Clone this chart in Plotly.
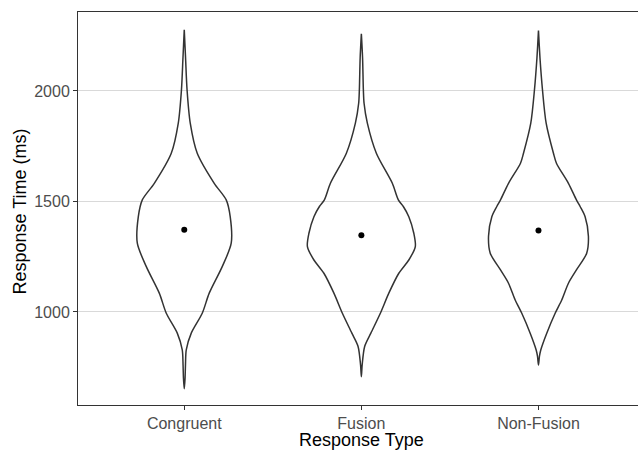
import plotly.graph_objects as go

categories = ["Congruent", "Fusion", "Non-Fusion"]
means = [1372, 1347, 1368]

# violin outlines: response time (ms) and half-width of the density (category units)
congruent_rt = [652, 700, 760, 828, 904, 994, 1085, 1205, 1311, 1431, 1507, 1582, 1718, 1854, 2005, 2150, 2276]
congruent_w = [0, .0045, .0068, .0113, .0395, .1015, .141, .2143, .2651, .2594, .2369, .1692, .0733, .0338, .0158, .0073, 0]

fusion_rt = [707, 760, 844, 904, 994, 1085, 1175, 1235, 1296, 1356, 1431, 1477, 1507, 1582, 1718, 1854, 1944, 2005, 2150, 2258]
fusion_w = [0, .0045, .0186, .0536, .1072, .1551, .2115, .2679, .3046, .2961, .2679, .2369, .2087, .1748, .0846, .0338, .0152, .0113, .0068, 0]

nonfusion_rt = [760, 800, 828, 904, 994, 1054, 1130, 1190, 1266, 1342, 1431, 1477, 1507, 1582, 1673, 1718, 1854, 2005, 2150, 2273]
nonfusion_w = [0, .0056, .013, .0468, .0942, .1314, .1692, .2143, .2724, .282, .2634, .2352, .2143, .1692, .1015, .0846, .0434, .0226, .0085, 0]

y_ticks = [1000, 1500, 2000]

fig = go.Figure()
outlines = [(congruent_rt, congruent_w), (fusion_rt, fusion_w), (nonfusion_rt, nonfusion_w)]
for i, (rt, w) in enumerate(outlines):
    c = i + 1
    xs = [c + v for v in w] + [c - v for v in reversed(w)]
    ys = list(rt) + list(reversed(rt))
    fig.add_trace(go.Scatter(x=xs, y=ys, mode="lines",
                             line=dict(color="#333333", width=1.5, shape="spline", smoothing=0.8),
                             hoverinfo="skip", showlegend=False))

fig.add_trace(go.Scatter(x=[1, 2, 3], y=means, mode="markers",
                         marker=dict(color="black", size=6), showlegend=False))

fig.update_layout(
    width=638, height=450,
    margin=dict(l=78, r=0, t=12, b=45),
    paper_bgcolor="white", plot_bgcolor="white",
    font=dict(family="Liberation Sans, Arial, sans-serif"),
    showlegend=False,
    annotations=[
        dict(text="Response Type", x=0.5 * (0.4 + 3.6), xref="x", y=0, yref="paper",
             yshift=-35, showarrow=False, xanchor="center", yanchor="middle",
             font=dict(size=18, color="black")),
        dict(text="Response Time (ms)", x=0, xref="paper", xshift=-59, y=0.5, yref="paper",
             yshift=-3, textangle=-90, showarrow=False, xanchor="center", yanchor="middle",
             font=dict(size=18, color="black")),
    ],
)
fig.update_xaxes(
    range=[0.4, 3.562], tickmode="array", tickvals=[1, 2, 3], ticktext=categories,
    showgrid=False, zeroline=False, automargin=False,
    showline=True, mirror=True, linecolor="#333333", linewidth=1,
    ticks="outside", ticklen=4, tickcolor="#333333",
    tickfont=dict(size=16, color="#4D4D4D"),
)
fig.update_yaxes(
    range=[579, 2357], tickvals=y_ticks,
    showgrid=True, gridcolor="#D9D9D9", gridwidth=1, zeroline=False, automargin=False,
    showline=True, linecolor="#333333", linewidth=1,
    ticks="outside", ticklen=4, tickcolor="#333333",
    tickfont=dict(size=16, color="#4D4D4D"),
)

fig.write_html("out.html", config={"displayModeBar": False},
               post_script="document.body.style.margin='0';document.body.style.overflow='hidden';")
